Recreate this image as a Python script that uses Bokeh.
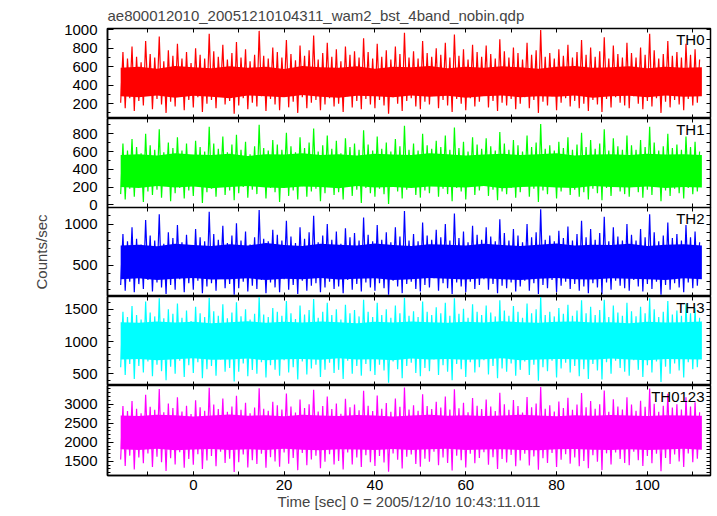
import numpy as np
from bokeh.plotting import figure
from bokeh.layouts import column
from bokeh.models import LinearAxis, SingleIntervalTicker, FixedTicker, Label, Range1d
from bokeh.embed import file_html
from bokeh.resources import INLINE

title_text = "ae800012010_20051210104311_wam2_bst_4band_nobin.qdp"
x_label = "Time [sec] 0 = 2005/12/10 10:43:11.011"
y_label = "Counts/sec"

t_start = -16.0
t_step = 0.5
core_step = 4.0

th0 = [
    210, 760, 150, 690, 260, 820, 120, 710, 230, 650, 180, 880, 290, 740, 140, 700,
    250, 930, 190, 660, 100, 780, 220, 720, 170, 850, 300, 690, 130, 760, 240, 640,
    160, 800, 270, 730, 110, 690, 200, 960, 240, 770, 150, 710, 320, 840, 190, 680,
    230, 750, 90, 870, 180, 700, 260, 790, 140, 660, 210, 730, 170, 990, 280, 720,
    120, 690, 250, 810, 190, 760, 130, 700, 300, 890, 160, 740, 220, 670, 100, 830,
    270, 720, 150, 780, 210, 940, 240, 680, 130, 750, 190, 860, 260, 710, 170, 790,
    200, 660, 110, 820, 280, 730, 160, 770, 230, 700, 140, 910, 250, 760, 190, 690,
    150, 850, 240, 710, 180, 780, 90, 680, 270, 820, 200, 740, 120, 970, 230, 700,
    260, 770, 170, 690, 140, 880, 220, 750, 190, 710, 310, 800, 150, 730, 240, 860,
    180, 700, 110, 950, 250, 720, 200, 790, 130, 680, 260, 840, 170, 760, 220, 710,
    290, 830, 160, 740, 230, 690, 120, 900, 210, 770, 180, 700, 250, 810, 140, 750,
    200, 680, 270, 860, 150, 730, 240, 780, 100, 1000, 220, 710, 180, 750, 280, 690,
    130, 790, 210, 720, 260, 840, 170, 700, 230, 760, 150, 890, 200, 730, 120, 810,
    240, 710, 190, 770, 110, 920, 250, 690, 160, 830, 270, 740, 210, 700, 180, 860,
    150, 750, 280, 700, 200, 810, 140, 730, 230, 960, 170, 780, 260, 690, 100, 740,
    220, 880, 160, 720, 240, 760, 190, 700, 130, 850, 250, 730, 180, 790, 210, 680,
]

th1 = [
    120, 690, 60, 610, 180, 740, 90, 650, 200, 580, 30, 800, 150, 670, 110, 620,
    170, 850, 80, 590, 220, 700, 40, 640, 130, 760, 190, 610, 70, 690, 160, 560,
    100, 720, 210, 650, 20, 600, 140, 880, 180, 690, 90, 630, 240, 770, 110, 590,
    160, 680, 50, 790, 130, 620, 200, 710, 80, 570, 170, 660, 120, 900, 220, 640,
    70, 610, 190, 730, 140, 680, 30, 620, 230, 810, 100, 660, 160, 590, 60, 760,
    210, 640, 90, 700, 150, 860, 180, 600, 40, 670, 130, 780, 200, 630, 110, 720,
    140, 580, 60, 750, 220, 650, 100, 690, 170, 620, 20, 840, 190, 680, 130, 610,
    90, 770, 180, 630, 120, 700, 10, 600, 210, 740, 150, 660, 70, 890, 170, 620,
    200, 690, 110, 610, 80, 800, 160, 670, 130, 630, 240, 720, 90, 650, 180, 780,
    120, 620, 40, 870, 190, 640, 150, 710, 60, 600, 200, 760, 110, 680, 160, 630,
    230, 750, 100, 660, 170, 610, 50, 820, 150, 690, 120, 620, 190, 730, 80, 670,
    140, 600, 210, 780, 90, 650, 180, 700, 30, 910, 160, 630, 120, 670, 220, 610,
    70, 710, 150, 640, 200, 760, 110, 620, 170, 680, 90, 810, 140, 650, 60, 730,
    180, 630, 130, 690, 50, 850, 190, 610, 100, 750, 210, 660, 150, 620, 120, 780,
    90, 670, 220, 620, 140, 730, 80, 650, 170, 880, 110, 700, 200, 610, 40, 660,
    160, 800, 100, 640, 180, 680, 130, 620, 70, 770, 190, 650, 120, 710, 150, 600,
]

th2 = [
    260, 880, 190, 790, 300, 960, 170, 820, 270, 750, 210, 1050, 320, 860, 180, 800,
    290, 1120, 230, 760, 150, 900, 260, 830, 200, 990, 330, 780, 170, 870, 280, 730,
    200, 940, 310, 840, 160, 790, 240, 1150, 280, 880, 190, 810, 340, 980, 220, 770,
    270, 860, 140, 1010, 220, 800, 300, 910, 180, 750, 250, 840, 210, 1170, 320, 820,
    160, 790, 290, 930, 230, 870, 170, 800, 330, 1040, 200, 850, 260, 770, 150, 960,
    310, 820, 190, 900, 250, 1100, 280, 780, 170, 860, 230, 1000, 300, 810, 210, 910,
    240, 760, 160, 950, 320, 840, 200, 890, 270, 800, 180, 1080, 290, 870, 230, 790,
    190, 990, 280, 810, 220, 900, 140, 780, 310, 960, 240, 850, 160, 1160, 270, 800,
    300, 880, 210, 790, 180, 1020, 260, 860, 230, 810, 340, 930, 190, 840, 280, 1000,
    220, 800, 150, 1130, 290, 830, 240, 910, 170, 780, 300, 980, 210, 870, 260, 810,
    330, 960, 200, 850, 270, 790, 160, 1060, 250, 890, 220, 800, 290, 940, 180, 860,
    240, 780, 310, 1000, 190, 840, 280, 900, 150, 1180, 260, 810, 220, 860, 320, 790,
    170, 920, 250, 830, 300, 970, 210, 800, 270, 880, 190, 1040, 240, 840, 160, 940,
    280, 810, 230, 890, 150, 1090, 290, 790, 200, 960, 310, 850, 250, 800, 220, 1000,
    190, 870, 320, 800, 240, 940, 180, 840, 270, 1120, 210, 900, 300, 790, 140, 860,
    260, 1020, 200, 830, 280, 880, 230, 800, 170, 990, 290, 840, 220, 910, 250, 780,
]

th3 = [
    600, 1460, 480, 1380, 650, 1550, 420, 1410, 620, 1340, 520, 1620, 690, 1450, 460, 1390,
    640, 1670, 540, 1360, 400, 1500, 610, 1430, 500, 1590, 700, 1370, 450, 1480, 630, 1320,
    510, 1540, 680, 1440, 430, 1380, 570, 1680, 620, 1470, 470, 1400, 720, 1580, 530, 1360,
    590, 1450, 380, 1610, 530, 1390, 660, 1500, 460, 1340, 560, 1430, 500, 1690, 680, 1420,
    440, 1380, 630, 1520, 560, 1460, 470, 1400, 710, 1630, 520, 1440, 600, 1350, 410, 1560,
    690, 1420, 490, 1490, 580, 1660, 640, 1370, 450, 1460, 560, 1600, 670, 1410, 510, 1500,
    560, 1340, 420, 1570, 700, 1440, 500, 1490, 620, 1390, 470, 1650, 650, 1460, 540, 1380,
    480, 1600, 640, 1410, 550, 1500, 360, 1370, 690, 1560, 570, 1440, 430, 1680, 620, 1400,
    670, 1470, 510, 1380, 460, 1620, 590, 1460, 540, 1410, 720, 1530, 480, 1440, 630, 1600,
    530, 1400, 400, 1670, 650, 1430, 570, 1510, 450, 1370, 680, 1580, 520, 1460, 600, 1410,
    710, 1560, 490, 1450, 620, 1390, 430, 1640, 580, 1480, 530, 1400, 660, 1550, 470, 1460,
    560, 1370, 690, 1590, 480, 1440, 640, 1500, 390, 1690, 600, 1410, 540, 1460, 700, 1390,
    440, 1520, 580, 1430, 670, 1570, 520, 1400, 620, 1480, 460, 1640, 570, 1440, 420, 1540,
    650, 1410, 550, 1490, 410, 1650, 680, 1380, 500, 1560, 700, 1450, 590, 1400, 530, 1600,
    470, 1470, 710, 1390, 560, 1540, 450, 1440, 630, 1670, 520, 1500, 690, 1380, 370, 1460,
    610, 1630, 500, 1420, 660, 1480, 550, 1400, 440, 1590, 680, 1440, 570, 1520, 600, 1370,
]

th0123 = [
    1550, 2950, 1380, 2820, 1650, 3080, 1290, 2880, 1600, 2760, 1450, 3250, 1710, 2930, 1350, 2850,
    1620, 3400, 1480, 2790, 1250, 3020, 1580, 2900, 1420, 3180, 1740, 2810, 1330, 2960, 1560, 2740,
    1410, 3100, 1690, 2920, 1300, 2830, 1520, 3430, 1640, 2990, 1370, 2870, 1750, 3150, 1460, 2800,
    1570, 2940, 1220, 3220, 1480, 2850, 1680, 3040, 1340, 2760, 1530, 2910, 1430, 3420, 1700, 2880,
    1330, 2830, 1610, 3060, 1500, 2970, 1360, 2860, 1730, 3280, 1440, 2940, 1590, 2780, 1270, 3120,
    1720, 2900, 1400, 3000, 1550, 3380, 1650, 2810, 1320, 2950, 1490, 3200, 1690, 2870, 1420, 3020,
    1510, 2750, 1290, 3140, 1730, 2920, 1420, 2990, 1600, 2840, 1350, 3350, 1660, 2960, 1480, 2820,
    1380, 3230, 1640, 2880, 1470, 3030, 1230, 2800, 1710, 3150, 1540, 2930, 1310, 3440, 1620, 2860,
    1680, 2970, 1430, 2830, 1360, 3260, 1570, 2950, 1490, 2870, 1750, 3060, 1400, 2910, 1600, 3200,
    1460, 2860, 1260, 3390, 1650, 2890, 1530, 3040, 1340, 2790, 1700, 3160, 1450, 2960, 1590, 2870,
    1740, 3120, 1410, 2940, 1610, 2820, 1300, 3300, 1560, 3000, 1470, 2850, 1670, 3110, 1370, 2950,
    1520, 2780, 1700, 3190, 1390, 2920, 1630, 3020, 1280, 3450, 1580, 2880, 1460, 2970, 1720, 2810,
    1350, 3070, 1540, 2900, 1690, 3170, 1440, 2850, 1600, 2990, 1370, 3290, 1510, 2920, 1320, 3080,
    1660, 2880, 1490, 3000, 1270, 3360, 1710, 2800, 1420, 3130, 1730, 2940, 1560, 2860, 1460, 3180,
    1400, 2990, 1750, 2830, 1530, 3090, 1380, 2930, 1640, 3410, 1450, 3010, 1700, 2800, 1240, 2960,
    1590, 3270, 1430, 2910, 1680, 3000, 1500, 2860, 1350, 3180, 1710, 2940, 1480, 3050, 1570, 2790,
]

# fully saturated core band of each light curve, read every 4 s
th0_core_lo = [280, 270, 290, 265, 285, 275, 260, 290, 280, 270, 295, 275, 265, 285, 280, 270, 290,
               275, 285, 265, 280, 290, 270, 280, 275, 290, 265, 280, 285, 270, 290, 275, 280]
th0_core_hi = [590, 600, 580, 610, 595, 585, 605, 590, 600, 575, 610, 595, 590, 605, 580, 600, 595,
               610, 585, 600, 590, 605, 595, 580, 600, 610, 590, 595, 605, 585, 600, 590, 595]
th1_core_lo = [200, 190, 210, 195, 205, 185, 200, 210, 195, 190, 205, 200, 185, 210, 195, 200, 190,
               205, 200, 195, 210, 185, 200, 205, 195, 190, 210, 200, 195, 205, 190, 200, 195]
th1_core_hi = [560, 570, 555, 580, 565, 560, 575, 550, 570, 565, 580, 560, 570, 555, 575, 565, 560,
               580, 570, 555, 565, 575, 560, 570, 580, 555, 565, 570, 560, 575, 565, 570, 560]
th2_core_lo = [330, 340, 320, 335, 345, 325, 330, 340, 320, 335, 330, 345, 325, 335, 340, 320, 330,
               345, 335, 325, 340, 330, 320, 335, 345, 330, 325, 340, 335, 330, 320, 340, 330]
th2_core_hi = [740, 750, 730, 760, 745, 735, 755, 740, 770, 745, 735, 760, 750, 740, 765, 745, 735,
               755, 750, 740, 760, 745, 735, 750, 765, 740, 750, 745, 760, 735, 750, 755, 740]
th3_core_lo = [720, 730, 710, 725, 740, 715, 720, 735, 710, 725, 730, 715, 740, 720, 725, 710, 735,
               720, 730, 715, 725, 740, 710, 720, 730, 725, 715, 735, 720, 710, 730, 725, 720]
th3_core_hi = [1300, 1290, 1310, 1295, 1305, 1285, 1300, 1315, 1290, 1305, 1295, 1310, 1300, 1285,
               1305, 1295, 1310, 1300, 1290, 1305, 1295, 1315, 1300, 1290, 1305, 1310, 1295, 1300,
               1285, 1305, 1295, 1300, 1310]
th0123_core_lo = [1820, 1800, 1830, 1790, 1810, 1825, 1795, 1815, 1800, 1830, 1805, 1790, 1820, 1810,
                  1795, 1825, 1800, 1815, 1830, 1795, 1810, 1820, 1800, 1790, 1815, 1825, 1805, 1800,
                  1820, 1795, 1810, 1830, 1805]
th0123_core_hi = [2700, 2690, 2720, 2710, 2680, 2700, 2730, 2695, 2710, 2685, 2720, 2700, 2690, 2715,
                  2705, 2680, 2700, 2725, 2695, 2710, 2690, 2705, 2720, 2700, 2685, 2710, 2695, 2715,
                  2700, 2690, 2710, 2700, 2695]

names = ["TH0", "TH1", "TH2", "TH3", "TH0123"]
series = [th0, th1, th2, th3, th0123]
cores_lo = [th0_core_lo, th1_core_lo, th2_core_lo, th3_core_lo, th0123_core_lo]
cores_hi = [th0_core_hi, th1_core_hi, th2_core_hi, th3_core_hi, th0123_core_hi]
colors = ["#ff0000", "#00ff00", "#0000ff", "#00ffff", "#ff00ff"]
y_lims = [(39, 1016), (-31, 972), (119, 1202), (317, 1699), (1129, 3490)]
y_major = [200, 200, 500, 500, 500]
y_minor_n = [2, 2, 5, 5, 5]
y_minor_step = 100
x_lims = (-18.9, 113.9)
x_major = 20
x_minor_step = 10

FONT = "Liberation Sans"
FS = "15px"

frame_heights = [90, 89, 89, 89, 90]

x_range = Range1d(*x_lims)


def style_axis(ax, major_in, minor_in, line=True):
    ax.major_tick_in = major_in
    ax.major_tick_out = 0
    ax.minor_tick_in = minor_in
    ax.minor_tick_out = 0
    ax.axis_line_color = "black" if line else None
    ax.axis_line_width = 1.5
    ax.major_tick_line_color = "black"
    ax.minor_tick_line_color = "black"
    ax.major_label_text_font = FONT
    ax.major_label_text_font_size = FS
    ax.major_label_text_color = "black"
    return ax


def ticks_only_axis(minor_positions):
    ax = LinearAxis(ticker=FixedTicker(ticks=[], minor_ticks=list(minor_positions)))
    style_axis(ax, 0, 4, line=False)
    ax.major_label_standoff = 0
    return ax


x_minor_pos = np.arange(np.ceil(x_lims[0] / x_minor_step) * x_minor_step, x_lims[1], x_minor_step)

figs = []
n = len(series)
for i in range(n):
    vals = np.array(series[i], dtype=float)
    t = t_start + t_step * np.arange(len(vals))
    ct = t_start + core_step * np.arange(len(cores_lo[i]))
    top = i == 0
    bottom = i == n - 1
    kw = {}
    if i == 2:
        kw["margin"] = (-8, 0, 0, 0)
    p = figure(
        frame_width=603,
        frame_height=frame_heights[i],
        x_range=x_range,
        y_range=Range1d(*y_lims[i]),
        output_backend="svg",
        toolbar_location=None,
        x_axis_location=None,
        y_axis_location=None,
        min_border_left=107,
        min_border_right=7,
        min_border_top=28 if top else 0,
        min_border_bottom=40 if bottom else (8 if i == 1 else 0),
        background_fill_color="white",
        border_fill_color="white",
        border_fill_alpha=0.0 if i == 2 else 1.0,
        **kw,
    )
    p.grid.visible = False
    p.outline_line_color = "black"
    p.outline_line_width = 1.5

    yt = SingleIntervalTicker(interval=y_major[i], num_minor_ticks=y_minor_n[i])
    left = LinearAxis(ticker=yt)
    style_axis(left, 6, 3)
    left.major_label_standoff = 10
    if i == 2:
        left.axis_label = y_label
        left.axis_label_text_font = FONT
        left.axis_label_text_font_size = FS
        left.axis_label_text_font_style = "normal"
        left.axis_label_standoff = 11
    p.add_layout(left, "left")

    y_minor_pos = np.arange(np.ceil(y_lims[i][0] / y_minor_step) * y_minor_step, y_lims[i][1], y_minor_step)
    p.add_layout(ticks_only_axis(y_minor_pos), "right")
    p.add_layout(ticks_only_axis(x_minor_pos), "above")

    if bottom:
        below = LinearAxis(ticker=SingleIntervalTicker(interval=x_major, num_minor_ticks=2))
        style_axis(below, 4, 4)
        below.major_label_standoff = 4
        below.axis_label = x_label
        below.axis_label_text_font = FONT
        below.axis_label_text_font_size = FS
        below.axis_label_text_font_style = "normal"
        below.axis_label_standoff = 0
        p.add_layout(below, "below")
    else:
        p.add_layout(ticks_only_axis(x_minor_pos), "below")

    if top:
        p.title.text = title_text
        p.title.text_font = FONT
        p.title.text_font_size = FS
        p.title.text_font_style = "normal"
        p.title.align = "left"
        p.title.offset = 0
        p.title.standoff = 9

    p.varea(x=ct, y1=cores_lo[i], y2=cores_hi[i], fill_color=colors[i], fill_alpha=1.0)
    p.line(t, vals, line_color=colors[i], line_width=1.2)

    p.add_layout(Label(
        x=x_lims[1], y=y_lims[i][1], x_offset=-6, y_offset=-2,
        text=names[i], text_align="right", text_baseline="top",
        text_font=FONT, text_font_size=FS, text_color="black",
    ))
    figs.append(p)

layout = column(*figs, spacing=0)
open("out.html", "w").write(file_html(layout, INLINE))
